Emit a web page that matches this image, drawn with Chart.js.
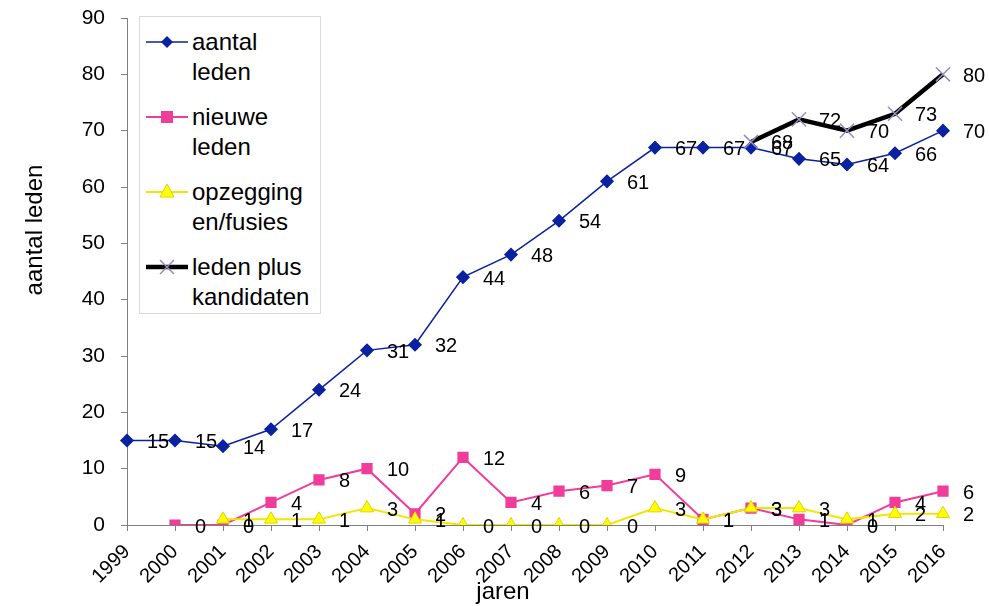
<!DOCTYPE html>
<html>
<head>
<meta charset="utf-8">
<script src="https://cdn.jsdelivr.net/npm/chart.js@4/dist/chart.umd.min.js"></script>
<style>
    body { margin: 0; background: #fff; font-family: "Liberation Sans", Arial, sans-serif; }
    #wrap { position: relative; width: 989px; height: 606px; }
    #legend {
        position: absolute; left: 139px; top: 16px; width: 182px; height: 298px;
        background: #fff; border: 1px solid #d9d9d9; box-sizing: border-box;
    }
    .item { position: absolute; left: 6px; display: flex; align-items: flex-start; }
    .item svg { margin-top: 4px; flex: none; }
    .item span { font-size: 24px; line-height: 30px; color: #000; margin-left: 4px; }
</style>
</head>
<body>
<div id="wrap">
    <canvas id="membersChart" width="989" height="606"></canvas>
    <div id="legend"></div>
</div>
<script>
// Ledenaantallen per jaar
const years = ['1999', '2000', '2001', '2002', '2003', '2004', '2005', '2006', '2007', '2008',
    '2009', '2010', '2011', '2012', '2013', '2014', '2015', '2016'];
const aantalLeden = [15, 15, 14, 17, 24, 31, 32, 44, 48, 54, 61, 67, 67, 67, 65, 64, 66, 70];
const nieuweLeden = [null, 0, 0, 4, 8, 10, 2, 12, 4, 6, 7, 9, 1, 3, 1, 0, 4, 6];
const opzeggingen = [null, null, 1, 1, 1, 3, 1, 0, 0, 0, 0, 3, 1, 3, 3, 1, 2, 2];
const ledenPlusKandidaten = [null, null, null, null, null, null, null, null, null, null,
    null, null, null, 68, 72, 70, 73, 80];
const yTicks = [0, 10, 20, 30, 40, 50, 60, 70, 80, 90];

const FONT = '"Liberation Sans", Arial, sans-serif';
const GREY = '#808080';

// labels next to every point
const pointLabels = {
    id: 'pointLabels',
    afterDatasetsDraw(chart) {
        const ctx = chart.ctx;
        ctx.save();
        ctx.font = '20px ' + FONT;
        ctx.fillStyle = '#000';
        ctx.textAlign = 'left';
        ctx.textBaseline = 'middle';
        chart.data.datasets.forEach((ds, i) => {
            const meta = chart.getDatasetMeta(i);
            meta.data.forEach((pt, j) => {
                if (ds.data[j] === null) return;
                ctx.fillText(String(ds.data[j]), pt.x + 20, pt.y + 2);
            });
        });
        ctx.restore();
    }
};

// axis titles drawn where the original has them
const axisTitles = {
    id: 'axisTitles',
    afterDraw(chart) {
        const ctx = chart.ctx;
        ctx.save();
        ctx.font = '24px ' + FONT;
        ctx.fillStyle = '#000';
        ctx.textAlign = 'center';
        ctx.textBaseline = 'middle';
        ctx.fillText('jaren', 503, 592);
        ctx.translate(35, 230);
        ctx.rotate(-Math.PI / 2);
        ctx.fillText('aantal leden', 0, 0);
        ctx.restore();
    }
};

const ctx = document.getElementById('membersChart').getContext('2d');
const membersChart = new Chart(ctx, {
    type: 'line',
    data: {
        labels: years,
        datasets: [{
            label: 'aantal leden',
            data: aantalLeden,
            borderColor: '#0a22a0',
            backgroundColor: '#0a22a0',
            borderWidth: 1.5,
            pointStyle: 'rectRot',
            pointRadius: 6,
            order: 4
        }, {
            label: 'nieuwe leden',
            data: nieuweLeden,
            borderColor: '#f03c9a',
            backgroundColor: '#f03c9a',
            borderWidth: 2,
            pointStyle: 'rect',
            pointRadius: 6.5,
            order: 3
        }, {
            label: 'opzegging en/fusies',
            data: opzeggingen,
            borderColor: '#f2e600',
            backgroundColor: '#ffff00',
            pointBorderColor: '#e0d400',
            pointBorderWidth: 1,
            borderWidth: 2,
            pointStyle: 'triangle',
            pointRadius: 7.5,
            order: 2
        }, {
            label: 'leden plus kandidaten',
            data: ledenPlusKandidaten,
            borderColor: '#000',
            borderWidth: 4.5,
            pointStyle: 'cross',
            pointRotation: 45,
            pointRadius: 10,
            pointBorderColor: '#9a8cc0',
            pointBorderWidth: 1.5,
            order: 1
        }]
    },
    options: {
        responsive: false,
        animation: false,
        layout: { padding: { top: 18, right: 46, left: 0, bottom: 0 } },
        plugins: {
            legend: { display: false },
            tooltip: { enabled: false }
        },
        scales: {
            x: {
                offset: false,
                afterFit: (scale) => {
                    scale.height = 81;
                    scale.paddingLeft = 0;
                    scale.paddingRight = 0;
                },
                border: { color: GREY, width: 1 },
                grid: { drawOnChartArea: false, color: GREY, tickLength: 6 },
                ticks: {
                    color: '#000',
                    font: { family: FONT, size: 20 },
                    minRotation: 45,
                    maxRotation: 45,
                    padding: 9,
                    autoSkip: false
                }
            },
            y: {
                min: 0,
                max: 90,
                afterFit: (scale) => {
                    scale.width = 127;
                    scale.paddingTop = 0;
                    scale.paddingBottom = 0;
                },
                afterBuildTicks: (scale) => { scale.ticks = yTicks.map(v => ({ value: v })); },
                border: { color: GREY, width: 1 },
                grid: { drawOnChartArea: false, color: GREY, tickLength: 6 },
                ticks: {
                    color: '#000',
                    font: { family: FONT, size: 21 },
                    padding: 16
                }
            }
        }
    },
    plugins: [pointLabels, axisTitles]
});

// Legend inside the plot, like the original
const legendItems = [
    { text: 'aantal<br>leden', color: '#0a22a0', mark: '<path d="M21 5 L27 11 L21 17 L15 11 Z" fill="#0a22a0"/>', w: 1.5 },
    { text: 'nieuwe<br>leden', color: '#f03c9a', mark: '<rect x="15" y="5" width="12" height="12" fill="#f03c9a"/>', w: 2 },
    { text: 'opzegging<br>en/fusies', color: '#f2e600', mark: '<path d="M21 3 L28 16 L14 16 Z" fill="#ffff00" stroke="#e0d400"/>', w: 2 },
    { text: 'leden plus<br>kandidaten', color: '#000', mark: '<path d="M14 4 L28 18 M28 4 L14 18" stroke="#9a8cc0" stroke-width="1.5"/>', w: 4.5 }
];
const legend = document.getElementById('legend');
legendItems.forEach((item, i) => {
    const div = document.createElement('div');
    div.className = 'item';
    div.style.top = (10 + i * 75) + 'px';
    div.innerHTML = '<svg width="42" height="22"><line x1="0" y1="11" x2="42" y2="11" stroke="' + item.color +
        '" stroke-width="' + item.w + '"/>' + item.mark + '</svg><span>' + item.text + '</span>';
    legend.appendChild(div);
});
</script>
</body>
</html>
